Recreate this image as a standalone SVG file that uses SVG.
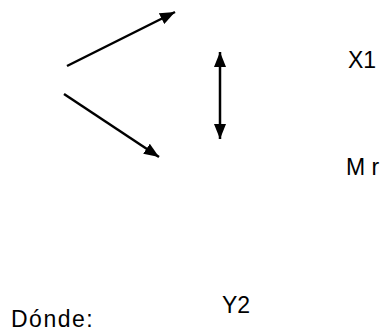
<svg xmlns="http://www.w3.org/2000/svg" width="387" height="331" viewBox="0 0 387 331">
  <style>
    .lbl { font-family: "Liberation Sans", Arial, sans-serif; font-size: 23px; fill: #000; }
    .edge { stroke: #000; stroke-width: 2.5; fill: none; }
  </style>
  <defs>
    <marker id="head" viewBox="0 0 15 12" refX="15" refY="6" markerWidth="15" markerHeight="12" markerUnits="userSpaceOnUse" orient="auto-start-reverse">
      <path d="M0,0 L15,6 L0,12 Z" fill="#000"/>
    </marker>
  </defs>
  <rect width="387" height="331" fill="#fff"/>
  <g id="connectors">
    <line class="edge" x1="67" y1="66" x2="175" y2="12" marker-end="url(#head)"/>
    <line class="edge" x1="64" y1="94" x2="159" y2="157" marker-end="url(#head)"/>
    <line class="edge" x1="220" y1="52" x2="220" y2="139" marker-start="url(#head)" marker-end="url(#head)"/>
  </g>
  <g id="x1"><text class="lbl" x="348" y="68">X1</text></g>
  <g id="mr"><text class="lbl" x="346" y="175">M r</text></g>
  <g id="y2"><text class="lbl" x="222" y="313">Y2</text></g>
  <g id="donde"><text class="lbl" x="11" y="327" letter-spacing="1.5">Dónde:</text></g>
</svg>
